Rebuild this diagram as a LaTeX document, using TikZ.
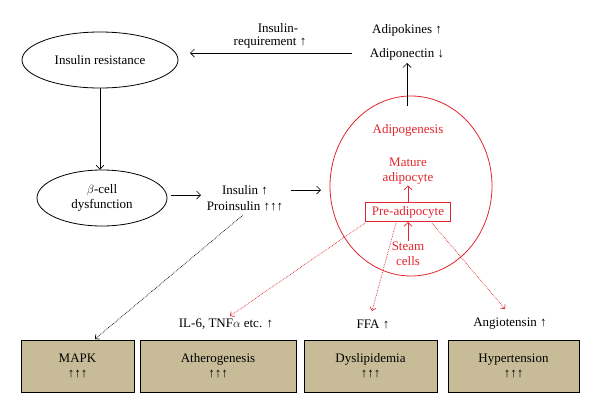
\documentclass[tikz,border=0pt]{standalone}
\usepackage{fontspec}
\setmainfont{Liberation Serif}
\usetikzlibrary{arrows.meta,shapes.geometric}
\definecolor{boxfill}{HTML}{C8BC98}
\definecolor{redc}{HTML}{E2262E}
\newcommand{\up}{↑}
\newcommand{\dn}{↓}
\begin{document}
\begin{tikzpicture}[x=1pt,y=-1pt,
  every node/.style={font=\fontsize{13}{15}\selectfont, align=center},
  ell/.style={draw, ellipse, line width=0.8pt, inner sep=0pt},
  lbl/.style={inner sep=1pt},
  redlbl/.style={inner sep=1pt, text=redc},
  disbox/.style={draw, line width=0.9pt, fill=boxfill, minimum height=52pt, inner sep=0pt},
  arr/.style={-{Straight Barb[length=4pt,width=8pt]}, line width=0.7pt},
  darr/.style={-{Straight Barb[length=3pt,width=6pt]}, densely dotted, line width=0.7pt}
]
\useasboundingbox (0,0) rectangle (600,413);

% left ellipses
\node[ell, minimum width=156pt, minimum height=56pt] (ir) at (100,60) {Insulin resistance};
\node[ell, minimum width=130pt, minimum height=56pt] (bc) at (102,198) {$\beta$-cell\\dysfunction};

% insulin text
\node[lbl] (ins) at (245,190) {Insulin \up};
\node[lbl] (pro) at (245,206) {Proinsulin \up\up\up};

% top-right texts
\node[lbl] (adk) at (407,30) {Adipokines \up};
\node[lbl] (adn) at (407,54) {Adiponectin \dn};
\node[lbl] (ir1) at (278,28) {Insulin-};
\node[lbl] (ir2) at (270,43) {requirement \up};

% red circle
\node[draw=redc, ellipse, line width=0.8pt, minimum width=162pt, minimum height=180pt] (circ) at (411,186) {};
\node[redlbl] (adg) at (408,130) {Adipogenesis};
\node[redlbl] (mat) at (408,171) {Mature\\adipocyte};
\node[draw=redc, line width=0.8pt, text=redc, minimum width=85pt, minimum height=19pt, inner sep=0pt] (pre) at (408,212) {Pre-adipocyte};
\node[redlbl] (stc) at (408,254) {Steam\\cells};

% bottom labels
\node[lbl] (il6) at (226,324) {IL-6, TNF$\alpha$ etc. \up};
\node[lbl] (ffa) at (373,324) {FFA \up};
\node[lbl] (ang) at (510,324) {Angiotensin \up};

% bottom boxes
\node[disbox, minimum width=113pt] (mapk) at (77.5,366) {MAPK\\\up\up\up};
\node[disbox, minimum width=156pt] (ath) at (218,366) {Atherogenesis\\\up\up\up};
\node[disbox, minimum width=133pt] (dys) at (370.5,366) {Dyslipidemia\\\up\up\up};
\node[disbox, minimum width=131pt] (hyp) at (513.5,366) {Hypertension\\\up\up\up};

% coordinates
\coordinate (a1) at (352,53);
\coordinate (a2) at (190,53);
\coordinate (c1) at (407,106);
\coordinate (c2) at (407,63);
\coordinate (b1) at (171,195);
\coordinate (b2) at (201,195);
\coordinate (i1) at (291,190);
\coordinate (i2) at (321,190);
\coordinate (p1) at (243,215);
\coordinate (p2) at (95,339);
\coordinate (r1s) at (365,223);
\coordinate (r1e) at (230,316);
\coordinate (r2s) at (396,223);
\coordinate (r2e) at (372,311);
\coordinate (r3s) at (432,223);
\coordinate (r3e) at (505,309);

% solid arrows
\draw[arr] (a1) -- (a2);
\draw[arr] (ir.south) -- (ir.south |- bc.north);
\draw[arr] (b1) -- (b2);
\draw[arr] (i1) -- (i2);
\draw[arr] (c1) -- (c2);
\draw[arr, draw=redc] (pre.north) -- (mat.south);
\draw[arr, draw=redc] (stc.north) -- (pre.south);

% dotted arrows
\draw[darr] (p1) -- (p2);
\draw[darr, draw=redc] (r1s) -- (r1e);
\draw[darr, draw=redc] (r2s) -- (r2e);
\draw[darr, draw=redc] (r3s) -- (r3e);
\end{tikzpicture}
\end{document}
